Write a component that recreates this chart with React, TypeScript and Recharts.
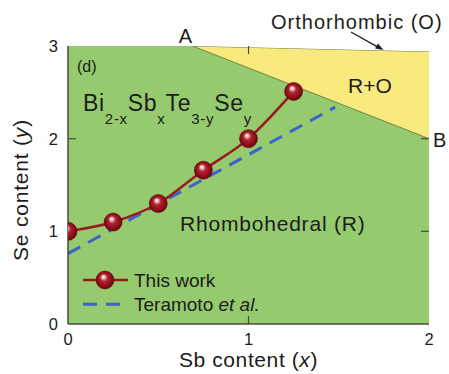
import React from 'react';
import { Area, ComposedChart, Customized, Legend, Line, ReferenceLine, XAxis, YAxis } from 'recharts';

// Bi(2-x)Sb(x)Te(3-y)Se(y): Se content at the R / R+O boundary vs Sb content
const sbContent = [0, 0.25, 0.5, 0.75, 1.0, 1.25];
const seContent = [1.0, 1.1, 1.3, 1.66, 2.0, 2.51];

// Teramoto et al. boundary (straight dashed line)
const teramotoSb = [0, 1.48];
const teramotoSe = [0.76, 2.34];

// full composition range (rhombohedral background)
const sbRange = [0, 2];
const seRange = [0, 3];

// phase-field edges running from A (top axis) to the right axis
const edgeSb = [0.69, 2];
const rhomboEdgeSe = [3, 2]; // R | R+O, ends at B
const orthoEdgeSe = [3, 2.94]; // R+O | O
const topSe = [3, 3];

const xTicks = [0, 1, 2];
const yTicks = [0, 1, 2, 3];

const W = 449;
const H = 374;
const M = { top: 46, right: 20, bottom: 50, left: 68 };
const FONT = '"Liberation Sans", Arial, Helvetica, sans-serif';
const GREEN = '#95ca6e';
const YELLOW = '#f9ea7e';
const RED = '#991a1e';
const BLUE = '#3d62c9';
const FRAME = '#4a4a4a';
const INK = '#1c1c1c';

// inward tick length (8 px) expressed in data units of each axis
const TICK_PX = 8;
const tickDx = (TICK_PX * (sbRange[1] - sbRange[0])) / (W - M.left - M.right);
const tickDy = (TICK_PX * (seRange[1] - seRange[0])) / (H - M.top - M.bottom);

const thisWork = sbContent.map((x, i) => ({ x, y: seContent[i] }));
const teramoto = teramotoSb.map((x, i) => ({ x, y: teramotoSe[i] }));
const rhomboField = sbRange.map((x) => ({ x, band: [seRange[0], seRange[1]] }));
const mixedField = edgeSb.map((x, i) => ({ x, band: [rhomboEdgeSe[i], orthoEdgeSe[i]] }));
const orthoField = edgeSb.map((x, i) => ({ x, band: [orthoEdgeSe[i], topSe[i]] }));

// tick segments on all four sides of the frame
const innerX = xTicks.slice(1, -1);
const innerY = yTicks.slice(1, -1);
const tickSegments = [
  ...innerX.map((v) => [{ x: v, y: seRange[0] }, { x: v, y: seRange[0] + tickDy }]),
  ...innerX.map((v) => [{ x: v, y: seRange[1] }, { x: v, y: seRange[1] - tickDy }]),
  ...innerY.map((v) => [{ x: sbRange[0], y: v }, { x: sbRange[0] + tickDx, y: v }]),
  ...innerY.map((v) => [{ x: sbRange[1], y: v }, { x: sbRange[1] - tickDx, y: v }]),
];

function Ball(props: any) {
  const { cx, cy, index } = props;
  if (cx == null || cy == null) return null;
  return <circle key={`ball-${index}`} cx={cx} cy={cy} r={9} fill="url(#ball)" stroke="#5e0509" strokeWidth={0.6} />;
}

const tickText = (side: 'bottom' | 'left') =>
  function TickText(props: any) {
    const { x, y, payload } = props;
    return (
      <text x={x} y={y} dy={side === 'bottom' ? '0.71em' : '0.355em'}
        textAnchor={side === 'bottom' ? 'middle' : 'end'} fontFamily={FONT} fontSize={16.5} fill={INK}>
        {payload.value}
      </text>
    );
  };

function LegendBox({ payload }: any) {
  const items = (payload || [])
    .filter((p: any) => p.type !== 'none')
    .sort((a: any, b: any) => (a.payload?.strokeDasharray ? 1 : 0) - (b.payload?.strokeDasharray ? 1 : 0));
  return (
    <svg width={170} height={52} style={{ display: 'block', overflow: 'visible' }}>
      {items.map((p: any, i: number) => {
        const y = 14 + i * 24.3;
        const dashed = !!p.payload?.strokeDasharray;
        return (
          <g key={p.value}>
            <line x1={0} x2={45} y1={y} y2={y} stroke={p.color} strokeWidth={dashed ? 3 : 2.5}
              strokeDasharray={dashed ? '14 9' : undefined} />
            {!dashed && <circle cx={22} cy={y} r={9} fill="url(#ball)" stroke="#5e0509" strokeWidth={0.6} />}
            <text x={51} y={y + 6.5} fontFamily={FONT} fontSize={19} fill={INK}>
              {p.value === 'Teramoto' ? <>Teramoto <tspan fontStyle="italic">et al.</tspan></> : p.value}
            </text>
          </g>
        );
      })}
    </svg>
  );
}

function Notes() {
  const ax = 383.5, ay = 50;
  return (
    <g fontFamily={FONT} fill={INK}>
      <text x={77} y={72} fontSize={16}>(d)</text>
      <text x={83} y={111} fontSize={23} letterSpacing={0.7}>
        Bi<tspan fontSize={15} dy={13}>2-x</tspan><tspan dy={-13}>Sb</tspan><tspan fontSize={15} dy={13}>x</tspan><tspan dy={-13}>Te</tspan><tspan fontSize={15} dy={13}>3-y</tspan><tspan dy={-13}>Se</tspan><tspan fontSize={15} dy={13}>y</tspan>
      </text>
      <text x={180} y={231} fontSize={21} letterSpacing={0.8}>Rhombohedral (R)</text>
      <text x={348} y={93} fontSize={21}>R+O</text>
      <text x={185.5} y={43} fontSize={20} textAnchor="middle">A</text>
      <text x={433} y={147} fontSize={20}>B</text>
      <text x={271} y={29} fontSize={20} letterSpacing={1}>Orthorhombic (O)</text>
      <line x1={351} y1={32} x2={377} y2={46.6} stroke={INK} strokeWidth={1.3} />
      <polygon points={`${ax},${ay} ${ax - 8.4},${ay - 1.4} ${ax - 5.5},${ay - 6.6}`} fill={INK} />
      <text transform="rotate(-90, 28, 190)" x={28} y={190} fontSize={21} textAnchor="middle" letterSpacing={0.8}>
        Se content (<tspan fontStyle="italic">y</tspan>)
      </text>
    </g>
  );
}

const xTitle = (props: any) => {
  const vb = props?.viewBox ?? { x: 68, y: 324, width: 361, height: 50 };
  return (
    <text x={vb.x + vb.width / 2} y={vb.y + 43} textAnchor="middle" fontFamily={FONT} fontSize={21}
      letterSpacing={0.6} fill={INK}>
      Sb content (<tspan fontStyle="italic">x</tspan>)
    </text>
  );
};

const axisLine = { stroke: FRAME, strokeWidth: 1.5 };
const layer: React.CSSProperties = { position: 'absolute', left: 0, top: 0 };

export default function App() {
  return (
    <div style={{ position: 'absolute', left: 0, top: 0, width: W, height: H, background: '#fff' }}>
      {/* phase fields */}
      <div style={layer}>
        <ComposedChart width={W} height={H} margin={M}>
          <XAxis dataKey="x" type="number" domain={sbRange} allowDataOverflow hide />
          <YAxis type="number" domain={seRange} allowDataOverflow hide />
          <Area data={rhomboField} dataKey="band" type="linear" fill={GREEN} fillOpacity={1}
            stroke="none" legendType="none" isAnimationActive={false} />
          <Area data={mixedField} dataKey="band" type="linear" fill={YELLOW} fillOpacity={1}
            stroke="#5f6b3c" strokeWidth={0.8} legendType="none" isAnimationActive={false} />
          <Area data={orthoField} dataKey="band" type="linear" fill="#ffffff" fillOpacity={1}
            stroke="none" legendType="none" isAnimationActive={false} />
        </ComposedChart>
      </div>
      {/* frame, ticks, curves and labels */}
      <div style={layer}>
        <ComposedChart width={W} height={H} margin={{ top: M.top, right: M.right, bottom: 0, left: 0 }}>
          <defs>
            <radialGradient id="ball" cx="50%" cy="50%" r="55%" fx="40%" fy="30%">
              <stop offset="0%" stopColor="#ffffff" />
              <stop offset="14%" stopColor="#f1c9cd" />
              <stop offset="38%" stopColor="#b0242f" />
              <stop offset="75%" stopColor="#8a0d17" />
              <stop offset="100%" stopColor="#5c0309" />
            </radialGradient>
          </defs>
          <XAxis dataKey="x" type="number" domain={sbRange} ticks={xTicks} allowDataOverflow height={M.bottom}
            tick={tickText('bottom')} tickSize={0} tickMargin={9} tickLine={false}
            axisLine={axisLine} label={xTitle} />
          <XAxis xAxisId="top" orientation="top" dataKey="x" type="number" domain={sbRange} ticks={xTicks}
            allowDataOverflow height={0} tick={false} tickLine={false} axisLine={axisLine} />
          <YAxis type="number" domain={seRange} ticks={yTicks} allowDataOverflow width={M.left}
            tick={tickText('left')} tickSize={0} tickMargin={10} tickLine={false} axisLine={axisLine} />
          <YAxis yAxisId="right" orientation="right" type="number" domain={seRange} ticks={yTicks}
            allowDataOverflow width={0} tick={false} tickLine={false} axisLine={axisLine} />
          {tickSegments.map((seg, i) => (
            <ReferenceLine key={`tick-${i}`} segment={seg} stroke={FRAME} strokeWidth={1.2} ifOverflow="visible" />
          ))}
          <Line data={teramoto} dataKey="y" name="Teramoto" type="linear" stroke={BLUE} strokeWidth={3}
            strokeDasharray="14 9" dot={false} activeDot={false} isAnimationActive={false} />
          <Line data={thisWork} dataKey="y" name="This work" type="monotone" stroke={RED} strokeWidth={2.5}
            dot={Ball} activeDot={false} isAnimationActive={false} />
          <Customized component={Notes} />
          <Legend layout="vertical" align="center" verticalAlign="middle" content={LegendBox}
            wrapperStyle={{ left: 83, top: 266, width: 170, height: 52 }} />
        </ComposedChart>
      </div>
    </div>
  );
}
